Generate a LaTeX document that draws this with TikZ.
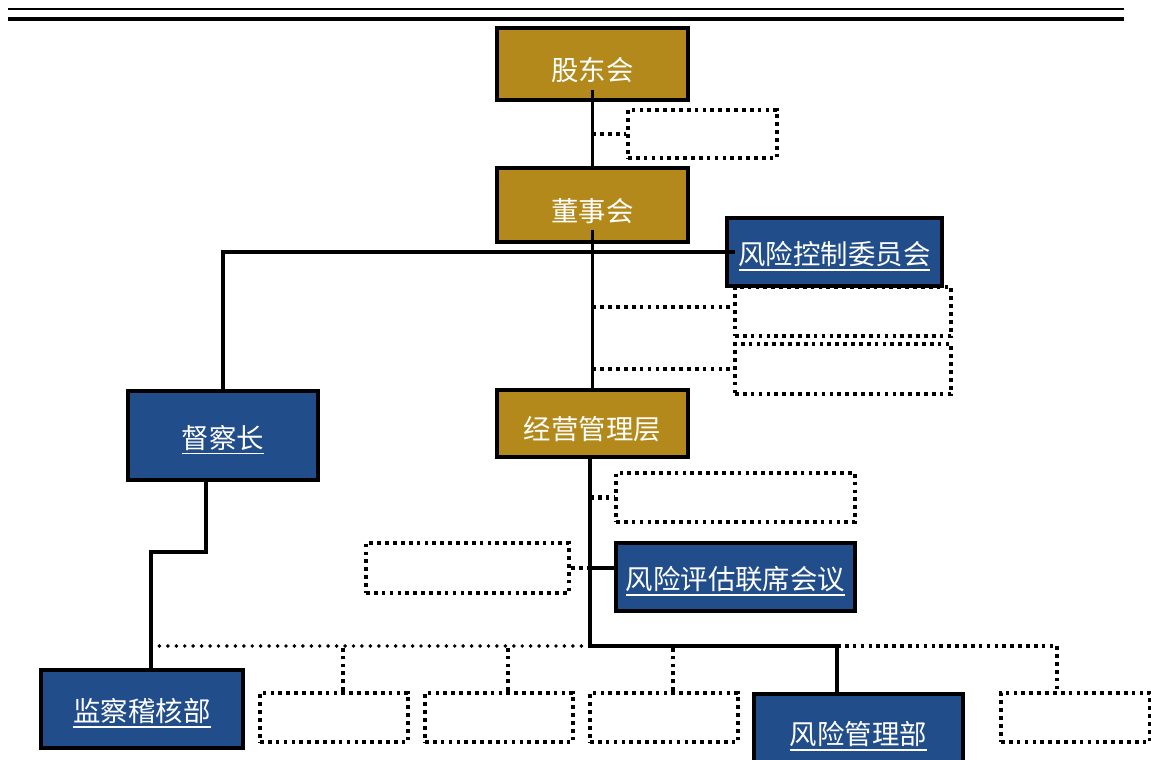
\documentclass[tikz,border=0pt]{standalone}
\usepackage{fontspec}
\usepackage{tikz}
\usetikzlibrary{positioning}
\newfontfamily\cjk{Noto Sans CJK SC}
\definecolor{gd}{HTML}{B2891A}
\definecolor{bl}{HTML}{214D8A}
\newcommand{\ulin}[1]{\setbox0\hbox{#1}\rlap{\rule[-4.5pt]{\wd0}{1.3pt}}\box0}
\newcommand{\orgbox}[7]{
    \pgfmathsetmacro{\bw}{(#5-#3)*0.025}
    \pgfmathsetmacro{\bh}{(#6-#4)*0.025}
    \node[#1, minimum width=\bw cm, minimum height=\bh cm] (#2) at ({(#3+#5)/2}, {(#4+#6)/2}) {#7};
}
\tikzset{
    gold/.style={draw=black, line width=2.4pt, fill=gd, text=white, inner sep=0pt,
        text height=23.4pt, text depth=0pt, font=\cjk\fontsize{19.5}{20}\selectfont},
    navy/.style={gold, fill=bl, text height=18pt},
    dotbox/.style={draw=black, line width=3pt, dash pattern=on 2.6pt off 3pt, inner sep=0pt},
    solidline/.style={line width=2.8pt},
    dotline/.style={line width=3pt, dash pattern=on 2.6pt off 3pt},
    busline/.style={line width=2.8pt, line cap=round, dash pattern=on 0pt off 6pt}
}

\begin{document}
\begin{tikzpicture}[x=0.025cm, y=-0.025cm]
        \useasboundingbox (0,0) rectangle (1151,760);
        \fill[white] (0,0) rectangle (1151,760);

        \draw[line width=1.5pt] (8,9) -- (1124,9);
        \draw[line width=3pt] (8,19) -- (1124,19);

        \orgbox{gold}{gdh}{497}{28}{688}{100}{股东会};
        \orgbox{gold}{dsh}{497}{168}{688}{242}{董事会};
        \orgbox{gold}{jy}{497}{390}{688}{457}{经营管理层};
        \orgbox{navy}{fk}{727}{218}{942}{286}{\ulin{风险控制委员会}};
        \orgbox{navy}{dcz}{128}{391}{318}{480}{\ulin{督察长}};
        \orgbox{navy}{fp}{616}{543}{855}{611}{\ulin{风险评估联席会议}};
        \orgbox{navy}{jc}{41}{670}{243}{748}{\ulin{监察稽核部}};
        \orgbox{navy}{fx}{754}{694}{963}{770}{\ulin{风险管理部}};

        \orgbox{dotbox}{d1}{628}{110}{777}{158}{};
        \orgbox{dotbox}{d2}{735}{287}{951}{336}{};
        \orgbox{dotbox}{d3}{735}{344}{951}{394}{};
        \orgbox{dotbox}{d4}{616}{473}{855}{522}{};
        \orgbox{dotbox}{d5}{366}{543}{569}{593}{};
        \orgbox{dotbox}{e1}{260}{693}{408}{742}{};
        \orgbox{dotbox}{e2}{425}{693}{573}{742}{};
        \orgbox{dotbox}{e3}{590}{693}{738}{742}{};
        \orgbox{dotbox}{e4}{1001}{693}{1150}{742}{};

        \coordinate (bus) at (590,646);
        \coordinate (turn) at (837,646);

        \draw[solidline] ([yshift=8.5pt]gdh.south) -- (dsh.north);
        \draw[solidline] ([yshift=10pt]dsh.south) -- (jy.north);
        \draw[solidline] (dcz.north) |- ([xshift=7pt]fk.west);
        \draw[solidline] ([xshift=-12pt]dcz.south) -- ++(0,70) -| ([xshift=6.4pt]jc.north);
        \draw[solidline] (jy.south -| bus) -- (bus) -| ([xshift=-15.3pt]fx.north);
        \draw[solidline] (bus |- d5.east) -- (fp.west |- d5.east);

        \draw[dotline] (d1.west -| gdh.south) -- (d1.west);
        \draw[dotline] ([yshift=3pt]d2.west -| gdh.south) -- ([yshift=3pt]d2.west);
        \draw[dotline] (d3.west -| gdh.south) -- (d3.west);
        \draw[dotline] (d4.west -| bus) -- (d4.west);
        \draw[dotline] (d5.east) -- (d5.east -| bus);

        \draw[busline] ([xshift=6.4pt]jc.north |- bus) -- (bus);
        \draw[dotline] ([xshift=6.4pt]e1.north) -- ++(0,-47);
        \draw[dotline] ([xshift=6.4pt]e2.north) -- ++(0,-47);
        \draw[dotline] ([xshift=6.4pt]e3.north) -- ++(0,-47);
        \draw[dotline] (turn) -| ([xshift=-13pt]e4.north);

\end{tikzpicture}
\end{document}
